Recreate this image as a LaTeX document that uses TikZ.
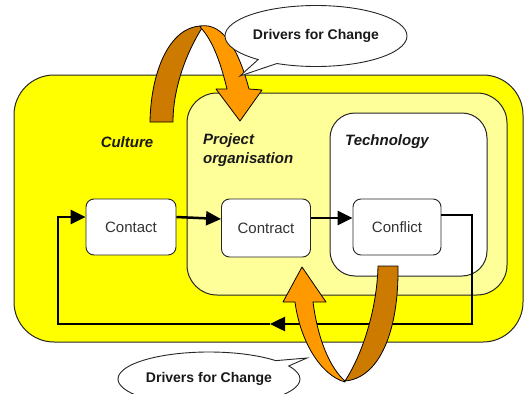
\documentclass[tikz,border=0pt]{standalone}
\usepackage{fontspec}
\setmainfont{Liberation Sans}
\usetikzlibrary{arrows.meta,shapes.callouts,calc}
\definecolor{yel}{HTML}{FFFF00}
\definecolor{lyel}{HTML}{FFFF99}
\definecolor{dorange}{HTML}{CC7A00}
\definecolor{lorange}{HTML}{FF9900}
\definecolor{txt}{HTML}{333333}
\begin{document}
\begin{tikzpicture}[x=1pt,y=-1pt,
  region/.style={draw=black!85, line width=1pt},
  box/.style={draw=black!85, fill=white, rounded corners=8pt, line width=0.9pt,
    inner sep=0pt, font=\fontsize{15}{18}\selectfont, text=txt},
  lbl/.style={font=\fontsize{15}{18}\selectfont\bfseries\itshape, text=black!90, inner sep=0pt},
  conn/.style={line width=2.5pt, line join=miter},
  tip/.style={-{Triangle[length=15pt,width=14pt]}},
  ribbon/.style={draw=black, line width=0.8pt, line join=round},
  callout/.style={ellipse callout, draw=black!85, fill=white, line width=0.9pt,
    inner sep=0pt, callout pointer arc=14,
    font=\fontsize{14}{17}\selectfont\bfseries, text=black!90}]

\useasboundingbox (0,0) rectangle (531,394);

% nested regions
\path[region, fill=yel, rounded corners=40pt] (14,75) rectangle (523,342);
\path[region, fill=lyel, rounded corners=30pt] (187,93) rectangle (507,295);
\path[region, fill=white, rounded corners=25pt] (330,113) rectangle (487,276);

% labels
\node[lbl] (lCulture) at (127,142) {Culture};
\node[lbl, align=left, anchor=west] (lProject) at (203,150) {Project\\[1pt]organisation};
\node[lbl] (lTech) at (387,142) {Technology};

% boxes
\node[box, minimum width=90pt, minimum height=56pt] (Contact) at (131,227) {Contact};
\node[box, minimum width=89pt, minimum height=58pt] (Contract) at (266,228) {Contract};
\node[box, minimum width=88pt, minimum height=56pt] (Conflict) at (397,227) {Conflict};

% connectors
\coordinate (r1) at (472,215);
\coordinate (r2) at (472,324);
\coordinate (mid) at (270,324);
\coordinate (l1) at (58,324);
\coordinate (l2) at (58,217);
\draw[conn, tip] ([yshift=10pt]Contact.east) -- ([yshift=9pt]Contract.west);
\draw[conn, tip] ([yshift=10pt]Contract.east) -- ([yshift=9pt]Conflict.west);
\draw[conn, tip] ([yshift=12pt]Conflict.east) -- (r1) -- (r2) -- (mid);
\draw[conn, tip] (mid) -- (l1) -- (l2) -- ([yshift=10pt]Contact.west);

% top curved arrow
\draw[ribbon, fill=dorange] (150,122) .. controls (151,70) and (170,28) .. (200,26)
  -- (202,28) .. controls (185,55) and (173,90) .. (173,122) -- cycle;
\draw[ribbon, fill=lorange] (200,26) .. controls (225,22) and (240,55) .. (249,89)
  -- (262,90) -- (240,121) -- (216,89) -- (227,89)
  .. controls (220,60) and (212,40) .. (201,28) -- cycle;

% top callout
\node[callout, minimum width=182pt, minimum height=61pt,
  callout absolute pointer={(240,76)}] (cTop) at (316,36) {Drivers for Change};

% bottom callout
\node[callout, minimum width=182pt, minimum height=54pt,
  callout absolute pointer={(307,358)}] (cBot) at (209,379) {Drivers for Change};

% bottom curved arrow
\draw[ribbon, fill=dorange] (378,266) -- (398,266)
  .. controls (399,330) and (380,378) .. (345,381)
  .. controls (362,355) and (377,310) .. (378,266) -- cycle;
\draw[ribbon, fill=lorange] (345,382) .. controls (320,375) and (300,340) .. (295,302)
  -- (283,302) -- (302,267) -- (326,302) -- (313,302)
  .. controls (318,340) and (330,368) .. (345,381) -- cycle;

\end{tikzpicture}
\end{document}
